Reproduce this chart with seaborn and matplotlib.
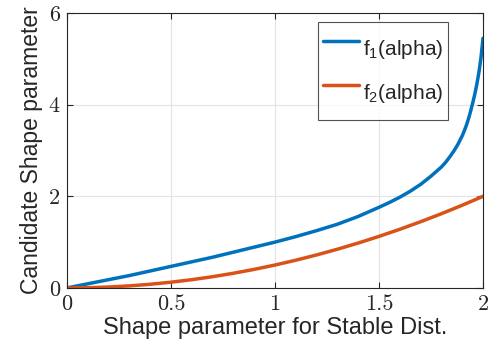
import matplotlib
matplotlib.use("Agg")
import matplotlib.pyplot as plt
import seaborn as sns
import pandas as pd

alpha_f1 = [0.0, 0.1, 0.2, 0.3, 0.4, 0.5, 0.6, 0.7, 0.8, 0.9, 1.0, 1.1, 1.2, 1.3, 1.4,
            1.5, 1.55, 1.6, 1.65, 1.7, 1.75, 1.8, 1.82, 1.84, 1.86, 1.88, 1.9, 1.91, 1.92,
            1.93, 1.94, 1.95, 1.96, 1.97, 1.98, 1.99, 2.0]
f1_vals = [0.0, 0.09, 0.18, 0.27, 0.37, 0.47, 0.57, 0.67, 0.78, 0.89, 1.0, 1.12, 1.25, 1.39, 1.56,
           1.76, 1.865, 1.98, 2.11, 2.26, 2.44, 2.64, 2.74, 2.86, 2.99, 3.14, 3.32, 3.43, 3.55,
           3.69, 3.85, 4.03, 4.22, 4.44, 4.7, 5.02, 5.45]

alpha_f2 = [0.0, 0.1, 0.2, 0.3, 0.4, 0.5, 0.6, 0.7, 0.8, 0.9, 1.0, 1.1, 1.2, 1.3, 1.4,
            1.5, 1.6, 1.7, 1.8, 1.9, 2.0]
f2_vals = [0.0, 0.005, 0.02, 0.045, 0.08, 0.125, 0.18, 0.245, 0.32, 0.405, 0.5, 0.605, 0.72,
           0.845, 0.98, 1.125, 1.28, 1.445, 1.62, 1.805, 2.0]

series_labels = [r"f$_1$(alpha)", r"f$_2$(alpha)"]
x_ticks = [0, 0.5, 1, 1.5, 2]
x_ticklabels = ["0", "0.5", "1", "1.5", "2"]
y_ticks = [0, 2, 4, 6]
y_ticklabels = ["0", "2", "4", "6"]

df = pd.concat([
    pd.DataFrame({"alpha": alpha_f1, "value": f1_vals, "series": series_labels[0]}),
    pd.DataFrame({"alpha": alpha_f2, "value": f2_vals, "series": series_labels[1]}),
])

sns.set_style("white")
plt.rcParams["font.family"] = ["Liberation Sans", "DejaVu Sans"]
plt.rcParams["mathtext.fontset"] = "custom"
plt.rcParams["mathtext.rm"] = "Liberation Sans"
plt.rcParams["mathtext.it"] = "Liberation Sans"

fig = plt.figure(figsize=(4.99, 3.52), dpi=100)
ax = fig.add_axes([0.134, 0.182, 0.834, 0.781])

sns.lineplot(data=df, x="alpha", y="value", hue="series",
             palette=["#0072BD", "#D95319"], linewidth=2.5, ax=ax, legend=True)

ax.set_xlim(0, 2)
ax.set_ylim(0, 6)
ax.set_xticks(x_ticks)
ax.set_xticklabels(x_ticklabels, fontfamily="cmr10", fontsize=16, color="#262626")
ax.set_yticks(y_ticks)
ax.set_yticklabels(y_ticklabels, fontfamily="cmr10", fontsize=16, color="#262626")
ax.grid(True, color="#e3e3e3", linewidth=0.8)
ax.set_axisbelow(True)
ax.tick_params(direction="in", length=4, width=0.8, color="#262626",
               top=True, right=True, bottom=True, left=True, pad=5)
for s in ax.spines.values():
    s.set_color("#262626")
    s.set_linewidth(0.8)

ax.set_xlabel("Shape parameter for Stable Dist.", fontsize=17, color="#262626", labelpad=2)
ax.set_ylabel("Candidate Shape parameter", fontsize=16.5, color="#262626", labelpad=4)

leg = ax.legend(loc="upper left", bbox_to_anchor=(0.603, 0.967), borderaxespad=0,
                fontsize=15, frameon=True, fancybox=False, edgecolor="#262626",
                handlelength=1.75, handleheight=2.8, labelspacing=0.05,
                borderpad=0.25, handletextpad=0.15)
leg.get_frame().set_linewidth(0.8)
leg.set_title(None)

fig.savefig("out.png", dpi=100)
